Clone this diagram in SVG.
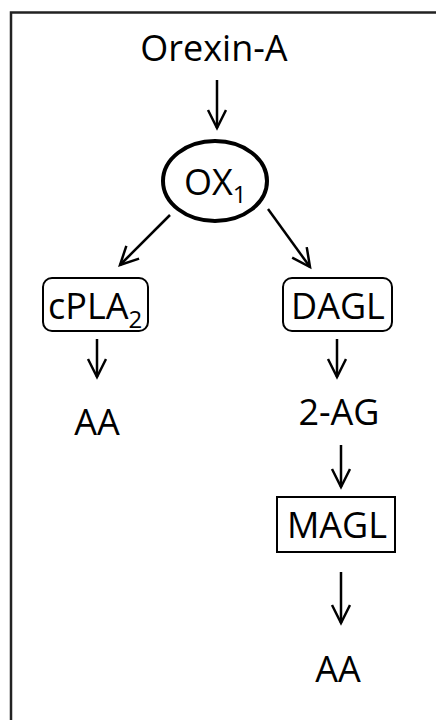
<svg xmlns="http://www.w3.org/2000/svg" width="436" height="720" viewBox="0 0 436 720">
<style>
  text { font-family: "Open Sans", "Liberation Sans", sans-serif; font-size: 36px; fill: #000; }
  .sub { font-size: 24px; }
  .box { fill: none; stroke: #000; stroke-width: 2; }
  .conn line { stroke: #000; stroke-width: 2.5; marker-end: url(#ah); }
  .frame { stroke: #222; stroke-width: 2.5; fill: none; }
</style>
<defs>
  <marker id="ah" markerUnits="userSpaceOnUse" markerWidth="24" markerHeight="24" refX="19" refY="10" orient="auto">
    <path d="M1,1 L19,10 L1,19" fill="none" stroke="#000" stroke-width="2.5"/>
  </marker>
</defs>
<rect width="436" height="720" fill="#fff"/>
<path class="frame" d="M11,720 L11,12.5 L436,12.5"/>

<g id="orexin">
  <text x="214" y="61" text-anchor="middle">Orexin-A</text>
</g>
<g id="ox1">
  <ellipse cx="215" cy="181" rx="52" ry="40" fill="none" stroke="#000" stroke-width="4"/>
  <text x="184" y="195">OX<tspan class="sub" dy="8">1</tspan></text>
</g>
<g id="cpla2">
  <rect class="box" x="43" y="278" width="105" height="53" rx="9"/>
  <text x="48" y="319">cPLA<tspan class="sub" dy="9">2</tspan></text>
</g>
<g id="aa-left">
  <text x="97" y="435" text-anchor="middle">AA</text>
</g>
<g id="dagl">
  <rect class="box" x="283" y="278" width="109" height="53" rx="9"/>
  <text x="338" y="319" text-anchor="middle">DAGL</text>
</g>
<g id="ag2">
  <text x="339" y="425" text-anchor="middle">2-AG</text>
</g>
<g id="magl">
  <rect class="box" x="277" y="497" width="118" height="55"/>
  <text x="337" y="538" text-anchor="middle">MAGL</text>
</g>
<g id="aa-right">
  <text x="338" y="682" text-anchor="middle">AA</text>
</g>

<g id="connectors" class="conn">
  <line x1="217" y1="80" x2="217" y2="128"/>
  <line x1="170" y1="215" x2="120" y2="265"/>
  <line x1="268" y1="209" x2="310" y2="267"/>
  <line x1="97" y1="339" x2="97" y2="377"/>
  <line x1="337" y1="339" x2="337" y2="377"/>
  <line x1="341" y1="445" x2="341" y2="487"/>
  <line x1="341" y1="572" x2="341" y2="623"/>
</g>
</svg>
